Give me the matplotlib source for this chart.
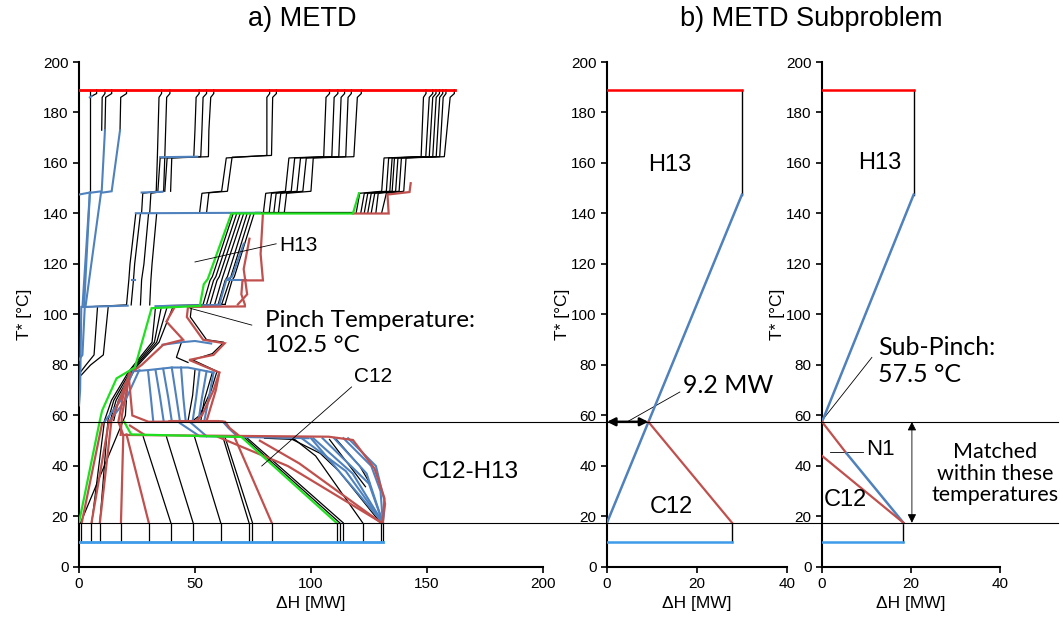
import matplotlib
matplotlib.use("Agg")
import matplotlib.pyplot as plt
from matplotlib.transforms import blended_transform_factory
from matplotlib.lines import Line2D

# ---------------- a) METD : composite curve variants ----------------
hot_utility = [(0, 189), (162, 189)]
cold_utility = [(0, 10), (131.1, 10)]
pinch_T = 102.5
sub_pinch_T = 57.5
low_T = 17.5

# black stepped hot curves above the pinch
upper_black = [
    [(4.7, 189), (4.7, 148.3)],
    [(7.6, 189), (7.6, 187.5), (5.5, 186.5)],
    [(11.2, 189), (11.2, 187.5), (10, 186), (9.8, 173)],
    [(14.1, 189), (14.1, 187.5), (11.5, 186), (11.2, 173)],
    [(20.5, 189), (20.5, 187.5), (18, 186), (17.7, 173)],
    [(35.6, 189), (35.6, 187.5), (34.5, 186), (33.8, 162.5), (33.3, 148.8), (27.5, 148), (27, 140.3)],
    [(39.2, 189), (39.2, 187.5), (37.8, 186), (37, 162.5), (36.5, 148.8), (31, 148), (30.5, 140.3)],
    [(51.8, 189), (51.8, 187.5), (50.5, 186), (50, 173), (49.5, 162.5), (35, 162), (34, 148.8)],
    [(55, 189), (55, 187.5), (53.5, 186), (53, 173), (52.5, 162.5), (38, 162), (37, 148.8)],
    [(58.1, 189), (58.1, 187.5), (56.8, 186), (56, 173), (55.8, 162.5), (40, 162), (39.5, 148.8)],
    [(82.2, 189), (82.2, 187.5), (81, 186), (81, 163), (63.5, 162), (61.5, 148.8), (53, 148), (52, 140.3)],
    [(85.1, 189), (85.1, 187.5), (83.5, 186), (83, 163), (66, 162.3), (64, 148.8), (56, 148.2), (55, 140.3)],
    [(108, 189), (108, 187.5), (106.5, 186), (105.5, 162.5), (90.5, 162), (89, 148.8), (80.5, 148), (79.5, 140.3)],
    [(111.6, 189), (111.6, 187.5), (110, 186), (109, 162.5), (93, 162), (91.5, 148.8), (83, 148), (82, 140.3)],
    [(114.5, 189), (114.5, 187.5), (113, 186), (112, 162.5), (95.5, 162), (94, 148.8), (85, 148), (84, 140.3)],
    [(117.4, 189), (117.4, 187.5), (116, 186), (115, 162.5), (98, 162), (96.5, 148.8), (87, 148), (86, 140.3)],
    [(121.7, 189), (121.7, 187.5), (120, 186), (118.5, 162.5), (101, 162), (100, 148.8), (89.5, 148), (88.5, 140.3)],
    [(149.6, 189), (149.6, 187.5), (148.5, 186), (147.5, 162.5), (131.5, 162), (130.5, 148.8), (121, 148), (119.5, 140.3)],
    [(152.5, 189), (152.5, 187.5), (151, 186), (149.5, 162.5), (133.5, 162), (132.5, 148.8), (123, 148), (121.5, 140.3)],
    [(153.9, 189), (153.9, 187.5), (152.5, 186), (151, 162.5), (135, 162), (134, 148.8), (124.5, 148), (123, 140.3)],
    [(155.4, 189), (155.4, 187.5), (154, 186), (152.5, 162.5), (136, 162), (135, 148.8), (126, 148), (124.5, 140.3)],
    [(156.8, 189), (156.8, 187.5), (155.5, 186), (154, 162.5), (137.5, 162), (136.5, 148.8), (127.5, 148), (126, 140.3)],
    [(158.2, 189), (158.2, 187.5), (157, 186), (155.5, 162.5), (139, 162), (138, 148.8), (129, 148), (128, 140.3)],
    [(161.8, 189), (161.8, 187.5), (160, 186), (157.5, 162.5), (141, 162), (140, 148.8), (132.5, 148), (130.5, 140.3)],
    [(76, 140.4), (118, 140.4)],
    [(24.5, 140), (22, 120), (21.5, 113.7), (20.5, 103.8), (3, 103)],
    [(26.5, 140), (24, 120), (23.5, 113.7), (22.5, 103.8)],
    [(30, 140), (28, 120), (27, 113.7), (26.5, 103.8)],
    [(33.5, 140), (31.5, 120), (31, 113.7), (30.5, 103.8)],
    [(66.5, 140), (57.5, 115), (56.5, 113.5), (53.5, 104)],
    [(68, 140), (59, 115), (58, 113.5), (55, 104)],
    [(69.5, 140), (60.5, 115), (59.5, 113.5), (56.5, 104)],
    [(71, 140), (62, 115), (61.5, 113.5), (58.5, 104)],
    [(72.5, 140), (64, 115), (63, 113.5), (60, 104)],
    [(74, 140), (65.5, 115), (65, 113.5), (61.5, 104)],
    [(75.5, 140), (67, 115), (66, 113.5), (63, 104)],
    [(63, 104), (36, 103.5)],
]

upper_blue = [
    [(0, 147.5), (4.7, 148.3)],
    [(5.5, 186.5), (4.7, 186)],
    [(11.2, 173), (9.8, 148.8), (4.7, 148.2), (2.2, 103)],
    [(17.7, 173), (14.1, 148.8), (9.5, 148.2), (2.8, 103)],
    [(4.7, 148.3), (1.5, 103)],
    [(35, 162.3), (51, 162.5)],
    [(27, 148.3), (36, 148.6)],
    [(24.5, 140.1), (78, 140.3)],
    [(2, 103), (21, 103.5)],
    [(22.7, 113.7), (24, 113.7)],
    [(71, 128), (66, 115), (63.5, 113.7), (60.5, 104)],
    [(64, 113.7), (72, 113.7)],
    [(33, 103.3), (61, 103.8)],
]

upper_red = [
    [(79.3, 140), (78.3, 124), (79.3, 113.5), (70.5, 113.5), (70, 108), (71.5, 104), (71.5, 103.2), (47, 103)],
    [(73.5, 130), (71, 118), (72.5, 108), (68.5, 104)],
    [(118, 140), (133.5, 140), (133, 147.5), (142.5, 148.5), (143, 152)],
]

hot_green = [(0, 17.5), (9, 58), (10, 62), (16.2, 74.7), (24.1, 79), (31.3, 102.5), (52.1, 103.4),
             (53.8, 112), (55.5, 114), (65.7, 140), (118.1, 140), (120.7, 148)]
cold_green = [(19.5, 57.5), (22.5, 52.5), (70, 51.5), (111, 17.5)]

# tangle between the pinch and 57.5 degC
mid_black = [
    [(12.6, 103), (10.5, 84), (5, 80), (1, 76)],
    [(8, 103), (6.5, 84), (3, 80), (0.5, 77)],
    [(33, 103), (31.5, 89), (21.5, 77.5), (14, 66), (11, 58), (5.5, 17.5)],
    [(35.5, 103), (32.5, 89), (22.5, 78), (15, 66), (12.5, 58), (9, 17.5)],
    [(38, 103), (33.5, 89), (23.5, 78.5), (16, 66), (13.5, 58)],
    [(40.5, 103), (34.5, 89), (24.5, 79), (17, 66), (15, 58)],
    [(48.5, 103), (48, 99), (55, 90), (62.5, 89), (57.5, 84.5), (49, 82), (59.5, 77.5), (57, 70), (52, 60), (48.5, 57.5)],
    [(50, 78), (49, 68), (47, 57.8)],
    [(57.5, 77), (54, 66), (52.5, 57.8)],
    [(44, 88.5), (42, 83), (47, 81)],
    [(21, 74), (20, 60), (0.7, 17.5)],
]

mid_blue = [
    [(2.5, 103), (1.5, 84), (0, 82)],
    [(1, 103), (0.5, 70), (0, 64)],
    [(36, 88), (44, 89), (50, 89.5), (57, 88.5)],
    [(23.5, 77.5), (30, 78), (40, 79), (47, 79), (58, 77)],
    [(29.8, 77.4), (31, 67), (32, 57.8)],
    [(33, 78), (35, 67), (36.5, 57.8)],
    [(36.3, 78.5), (38.5, 67), (40, 57.8)],
    [(40, 79), (42, 67), (43.5, 57.8)],
    [(44, 79), (45, 67), (46, 57.8)],
    [(52, 78), (50.5, 67), (49, 57.8)],
    [(55, 77.5), (53, 67), (51.5, 57.8)],
    [(58, 77), (56, 67), (54, 57.8)],
    [(40, 57.6), (62, 57.6), (64.5, 55), (68, 52)],
    [(43.5, 57), (52, 51.8), (99, 51)],
    [(48, 57.3), (55, 51.8)],
    [(24.5, 80), (18, 66), (11, 57.5)],
    [(26, 78), (20, 66), (13, 57.5)],
]

mid_red = [
    [(47, 103), (46.5, 99), (53.5, 90), (62.8, 88.6), (58, 84), (47.5, 82), (60.5, 77), (58, 70), (53, 60), (50, 57.5)],
    [(41.3, 103), (37.7, 97.2), (44.9, 90), (36.3, 88), (34, 86), (27, 80), (24, 78)],
    [(60.5, 77), (59, 70), (55, 57.8)],
    [(39, 57.8), (60, 57.8), (63, 57.5), (65, 55), (69, 52)],
    [(22, 77), (18.5, 60), (18, 52.3)],
    [(22, 77), (14, 58), (9, 17.5)],
    [(10, 57), (1.2, 17.5)],
    [(13, 58), (5.4, 17.5)],
    [(22, 56), (28, 52.5)],
    [(21.5, 75), (23, 60), (30, 57.5), (40, 57.6)],
]

# fan between 52 degC and 17.5 degC
low_black = [
    [(27.7, 51.6), (39.6, 17.5)],
    [(37.7, 51.6), (49.2, 17.5)],
    [(49.9, 51.3), (61.1, 17.5)],
    [(62.1, 51.3), (73.3, 17.5)],
    [(63, 51.3), (74.8, 17.5)],
    [(71, 51.5), (112.4, 17.5)],
    [(72, 51.5), (113.9, 17.5)],
    [(80, 51), (93, 50.5), (102, 44), (122.3, 17.5)],
    [(92, 50.5), (104, 45), (112, 38), (130, 17.5)],
    [(108, 50.5), (123.5, 31.8)],
    [(111, 50.5), (121, 40), (125.5, 33)],
]

low_red = [
    [(20, 72.5), (17, 57.5), (19.1, 52.3), (107.6, 51.6), (118.1, 50.3), (127.4, 39), (131.7, 27.2), (131, 17.5)],
    [(19.1, 52), (18.1, 17.5)],
    [(20.5, 52.5), (30.1, 17.5)],
    [(67.1, 51.3), (83.1, 17.5)],
    [(78, 50), (95, 41), (130.3, 17.5)],
    [(60, 51.5), (90, 40), (130.5, 17.5)],
]

low_blue = [
    [(100, 51), (131, 17.5)],
    [(101, 51), (118, 37), (131, 17.5)],
    [(105, 51), (125, 33), (131, 17.5)],
    [(110, 51), (124, 37), (131, 17.5)],
    [(114, 51), (126, 40), (130, 30), (131, 17.5)],
    [(116, 51), (128, 40), (132, 25), (131, 17.5)],
    [(96, 51), (115, 38), (131, 17.5)],
]

bottom_x = [0.7, 5.4, 9.0, 18.1, 30.1, 39.6, 49.2, 61.1, 73.3, 74.8, 83.1,
            111.3, 112.4, 113.9, 122.3, 130.0, 131.1]

# ---------------- b) METD Subproblem ----------------
sub1_hot_red = [(0, 189), (30, 189)]
sub1_hot_black = [(30, 189), (30, 147.5)]
sub1_blue = [(30, 147.5), (0, 17.5)]
sub1_red = [(9.2, 57.5), (27.8, 17.5)]
sub1_cold_black = [(27.8, 17.5), (27.8, 10)]
sub1_cold_util = [(0, 10), (27.8, 10)]
gap_MW = 9.2

sub2_hot_red = [(0, 189), (20.6, 189)]
sub2_hot_black = [(20.6, 189), (20.6, 147.5)]
sub2_blue_top = [(20.6, 147.5), (0, 57.5)]
sub2_red_n1 = [(0, 57.5), (5.5, 45)]
sub2_blue_n1 = [(5.5, 45), (18.3, 17.5)]
sub2_red_c12 = [(0, 44), (18.3, 17.5)]
sub2_cold_black = [(18.3, 17.5), (18.3, 10)]
sub2_cold_util = [(0, 10), (18.3, 10)]

BLUE = "#4F81BD"
RED = "#C0504D"
GREEN = "#1EE01E"
SANS = ["Liberation Sans", "DejaVu Sans"]
CAL = ["Lato", "DejaVu Sans"]
plt.rcParams["font.family"] = SANS


def draw(ax, pts, color, lw, z=2):
    xs = [p[0] for p in pts]
    ys = [p[1] for p in pts]
    ax.plot(xs, ys, color=color, lw=lw, zorder=z, solid_joinstyle="miter")


def style(ax, xmax, xticks):
    ax.set_xlim(0, xmax)
    ax.set_ylim(0, 200)
    ax.set_xticks(xticks)
    ax.set_yticks(range(0, 201, 20))
    for s in ["top", "right"]:
        ax.spines[s].set_visible(False)
    for s in ["left", "bottom"]:
        ax.spines[s].set_linewidth(1.5)
    ax.tick_params(direction="out", length=4, width=1.2, labelsize=11)
    ax.set_xlabel("ΔH [MW]", fontsize=12.5, labelpad=3)


fig = plt.figure(figsize=(10.6, 6.2), dpi=100)
ax1 = fig.add_axes([0.0745, 0.0855, 0.4377, 0.8145])
ax2 = fig.add_axes([0.5726, 0.0855, 0.1698, 0.8145])
ax3 = fig.add_axes([0.7755, 0.0855, 0.1679, 0.8145])

# panel a
for c in upper_black + mid_black + low_black:
    draw(ax1, c, "black", 0.9, 2)
for c in upper_blue + mid_blue + low_blue:
    draw(ax1, c, BLUE, 1.5, 3)
for c in upper_red + mid_red + low_red:
    draw(ax1, c, RED, 1.6, 3)
draw(ax1, hot_green, GREEN, 1.6, 4)
draw(ax1, cold_green, GREEN, 1.6, 4)
ax1.vlines(bottom_x, cold_utility[0][1], low_T, color="black", lw=0.9, zorder=2)
draw(ax1, hot_utility, "#FF0000", 2.0, 5)
draw(ax1, cold_utility, "#3D9BE9", 2.0, 5)
style(ax1, 200, range(0, 201, 50))
ax1.set_ylabel("T* [°C]", fontsize=12.5, labelpad=8)

ax1.plot([50, 85], [120.8, 128], color="black", lw=0.6, zorder=6)
ax1.text(86.5, 127.5, "H13", fontsize=15, va="center", ha="left")
ax1.plot([47.8, 74.5], [pinch_T, 95.8], color="black", lw=0.6, zorder=6)
ax1.text(80, 92.7, "Pinch Temperature:\n102.5 °C", fontsize=17.5, va="center", ha="left",
         family=CAL, linespacing=1.25)
ax1.plot([78.8, 117.5], [40, 71.3], color="black", lw=0.6, zorder=6)
ax1.text(118.5, 75.6, "C12", fontsize=15, va="center", ha="left")
ax1.text(147.7, 37.6, "C12-H13", fontsize=17.5, va="center", ha="left")

# panel b, left
draw(ax2, sub1_hot_red, "#FF0000", 1.8, 5)
draw(ax2, sub1_hot_black, "black", 1.0)
draw(ax2, sub1_blue, BLUE, 1.8, 3)
draw(ax2, sub1_red, RED, 1.6, 3)
draw(ax2, sub1_cold_black, "black", 1.0)
draw(ax2, sub1_cold_util, "#3D9BE9", 1.8, 5)
ax2.annotate("", xy=(gap_MW, sub_pinch_T), xytext=(0, sub_pinch_T),
             arrowprops=dict(arrowstyle="<|-|>", color="black", lw=1.8,
                             mutation_scale=12, shrinkA=0, shrinkB=0), zorder=6)
ax2.plot([4.4, 16.2], [57.4, 69.3], color="black", lw=0.6)
ax2.text(16.9, 71.7, "9.2 MW", fontsize=18, va="center", ha="left", family=CAL)
ax2.text(14, 159.2, "H13", fontsize=17, va="center", ha="center")
ax2.text(14.4, 23.8, "C12", fontsize=17, va="center", ha="center")
style(ax2, 40, [0, 20, 40])
ax2.set_ylabel("T* [°C]", fontsize=12.5, labelpad=1)

# panel b, right
draw(ax3, sub2_hot_red, "#FF0000", 1.8, 5)
draw(ax3, sub2_hot_black, "black", 1.0)
draw(ax3, sub2_blue_top, BLUE, 1.8, 3)
draw(ax3, sub2_red_n1, RED, 1.6, 3)
draw(ax3, sub2_blue_n1, BLUE, 1.8, 3)
draw(ax3, sub2_red_c12, RED, 1.6, 3)
draw(ax3, sub2_cold_black, "black", 1.0)
draw(ax3, sub2_cold_util, "#3D9BE9", 1.8, 5)
ax3.annotate("", xy=(20.2, sub_pinch_T), xytext=(20.2, low_T),
             arrowprops=dict(arrowstyle="<|-|>", color="black", lw=0.6,
                             mutation_scale=13, shrinkA=0, shrinkB=0), zorder=6)
ax3.plot([1.8, 9.2], [45.5, 45.5], color="black", lw=0.6)
ax3.text(9.9, 46.5, "N1", fontsize=16, va="center", ha="left")
ax3.plot([0, 11.2], [58, 83], color="black", lw=0.6)
ax3.text(12.6, 81.6, "Sub-Pinch:\n57.5 °C", fontsize=18, va="center", ha="left",
         family=CAL, linespacing=1.25)
ax3.text(13, 160, "H13", fontsize=17, va="center", ha="center")
ax3.text(5.2, 26.5, "C12", fontsize=17, va="center", ha="center")
ax3.text(38.9, 37, "Matched\nwithin these\ntemperatures", fontsize=15.5, va="center",
         ha="center", family=CAL, linespacing=1.1, clip_on=False)
style(ax3, 40, [0, 20, 40])
ax3.set_ylabel("T* [°C]", fontsize=12.5, labelpad=1)

fig.text(302 / 1060, 1 - 19 / 620, "a) METD", fontsize=19.5, ha="center", va="center")
fig.text(811 / 1060, 1 - 19 / 620, "b) METD Subproblem", fontsize=19.5, ha="center", va="center")

# guide lines across the whole figure
tr = blended_transform_factory(fig.transFigure, ax1.transData)
for t in [sub_pinch_T, low_T]:
    fig.add_artist(Line2D([0.0735, 0.998], [t, t], transform=tr, color="black", lw=0.8))

fig.savefig("out.png", dpi=100)
